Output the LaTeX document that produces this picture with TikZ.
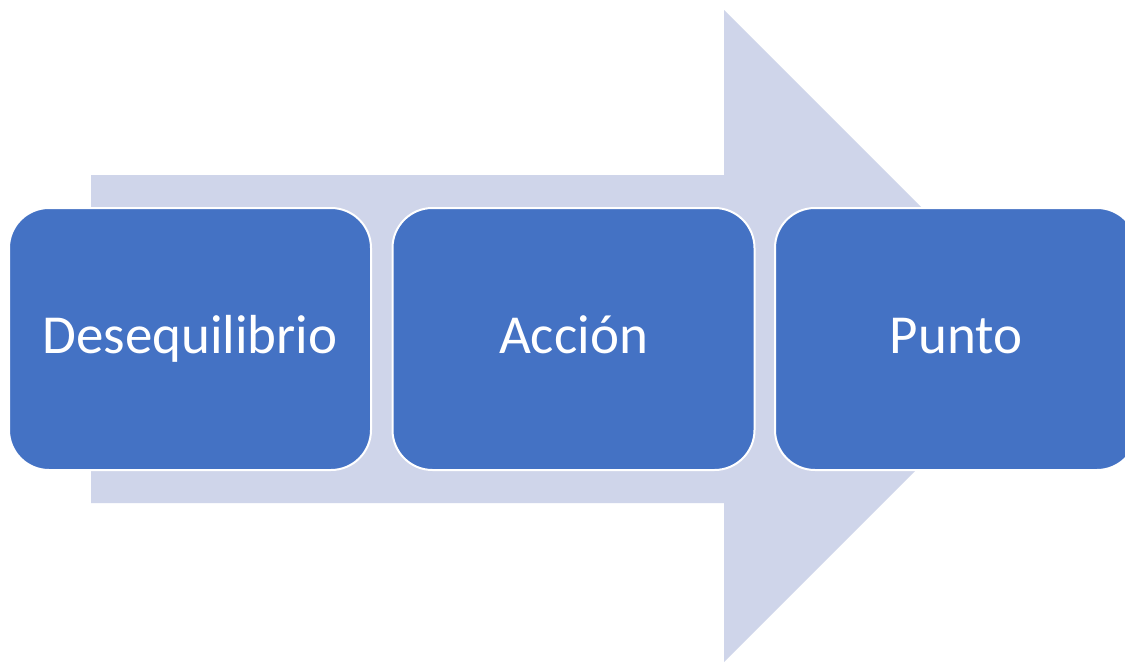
\documentclass[tikz,border=0pt]{standalone}
\usepackage{fontspec}
\setmainfont{Carlito}
\definecolor{boxblue}{HTML}{4472C4}
\definecolor{arrowlight}{HTML}{CFD5EA}
\begin{document}
\begin{tikzpicture}[x=1pt,y=-1pt,
  stagebox/.style={rectangle, rounded corners=40pt, fill=boxblue, draw=white, line width=2pt,
    minimum width=362pt, minimum height=262pt, inner sep=0pt, text=white,
    text height=40pt, text depth=12pt, font=\fontsize{55}{66}\selectfont}]
\useasboundingbox (0,0) rectangle (1125,662);
\clip (0,0) rectangle (1125,662);
\fill[white] (0,0) rectangle (1125,662);
\fill[arrowlight] (91,175) -- (724,175) -- (724,10) -- (1050,336) -- (724,662) -- (724,503) -- (91,503) -- cycle;
\node[stagebox] (b1) at (190,339) {Desequilibrio};
\node[stagebox] (b2) at (573.5,339) {Acción};
\node[stagebox] (b3) at (956,339) {Punto};
\end{tikzpicture}
\end{document}
